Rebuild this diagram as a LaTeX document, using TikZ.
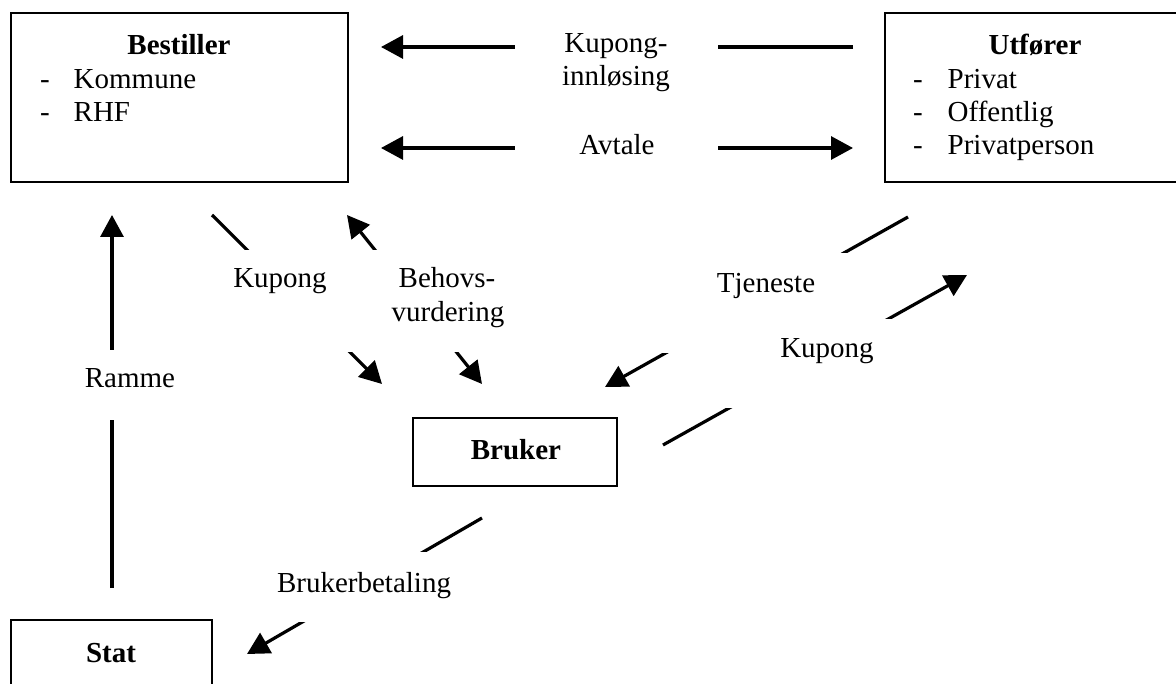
\documentclass[tikz,border=0pt]{standalone}
\usepackage{fontspec}
\setmainfont{Liberation Serif}
\usetikzlibrary{arrows.meta}
\tikzset{
  boxnode/.style={draw, line width=2pt, rectangle, inner sep=0pt},
  conn/.style={line width=3.2pt, -{Triangle[length=22pt,width=23pt]}},
  conn2/.style={line width=3.2pt, {Triangle[length=22pt,width=23pt]}-{Triangle[length=22pt,width=23pt]}},
  txt/.style={inner sep=0pt, font=\fontsize{29}{33}\selectfont},
  btxt/.style={inner sep=0pt, font=\fontsize{29}{33}\selectfont\bfseries},
  mask/.style={fill=white}
}
\begin{document}
\begin{tikzpicture}[x=1pt,y=-1pt]
\clip (0,0) rectangle (1176,684);
\fill[white] (0,0) rectangle (1176,684);
% boxes
\node[boxnode, minimum width=337pt, minimum height=169pt] (bestiller) at (179.5,97.5) {};
\node[boxnode, minimum width=315pt, minimum height=169pt] (utforer) at (1042.5,97.5) {};
\node[boxnode, minimum width=204pt, minimum height=68pt] (bruker) at (515,452) {};
\node[boxnode, minimum width=201pt, minimum height=100pt] (stat) at (111.5,670) {};
% connector end points
\coordinate (kiS) at (853,47);  \coordinate (kiT) at (381,47);
\coordinate (avL) at (381,148); \coordinate (avR) at (853,148);
\coordinate (kLS) at (212,215); \coordinate (kLT) at (382,384);
\coordinate (bhU) at (347,215); \coordinate (bhD) at (482,384);
\coordinate (tjS) at (908,217); \coordinate (tjT) at (605,387);
\coordinate (kRS) at (663,445); \coordinate (kRT) at (967,275);
\coordinate (bbS) at (482,518); \coordinate (bbT) at (247,654);
\coordinate (raS) at (112,588); \coordinate (raT) at (112,215);
% connectors
\draw[conn] (kiS) -- (kiT);
\draw[conn2] (avL) -- (avR);
\draw[conn] (kLS) -- (kLT);
\draw[conn2] (bhU) -- (bhD);
\draw[conn] (tjS) -- (tjT);
\draw[conn] (kRS) -- (kRT);
\draw[conn] (bbS) -- (bbT);
\draw[conn] (raS) -- (raT);
% label backgrounds
\fill[mask] (515,35) rectangle (718,60);
\fill[mask] (515,135) rectangle (718,160);
\fill[mask] (225,250) rectangle (365,352);
\fill[mask] (368,250) rectangle (540,352);
\fill[mask] (660,253) rectangle (850,353);
\fill[mask] (700,319) rectangle (900,408);
\fill[mask] (270,552) rectangle (460,622);
\fill[mask] (70,350) rectangle (190,420);
% box texts
\node[btxt, anchor=base] (tBest) at (179,55) {Bestiller};
\node[txt, anchor=base west] (dB1) at (40,89) {-};
\node[txt, anchor=base west] (tKom) at (73.5,89) {Kommune};
\node[txt, anchor=base west] (dB2) at (40,122) {-};
\node[txt, anchor=base west] (tRHF) at (73.5,122) {RHF};
\node[btxt, anchor=base] (tUtf) at (1035,55) {Utfører};
\node[txt, anchor=base west] (dU1) at (913,89) {-};
\node[txt, anchor=base west] (tPri) at (947.5,89) {Privat};
\node[txt, anchor=base west] (dU2) at (913,122) {-};
\node[txt, anchor=base west] (tOff) at (947.5,122) {Offentlig};
\node[txt, anchor=base west] (dU3) at (913,155) {-};
\node[txt, anchor=base west] (tPP) at (947.5,155) {Privatperson};
\node[btxt, anchor=base] (tBru) at (516,460) {Bruker};
\node[btxt, anchor=base] (tStat) at (111,662) {Stat};
% connector labels
\node[txt, anchor=base] (lKI1) at (616,53) {Kupong-};
\node[txt, anchor=base] (lKI2) at (616,86) {innløsing};
\node[txt, anchor=base] (lAv) at (617,155) {Avtale};
\node[txt, anchor=base] (lKL) at (280,288) {Kupong};
\node[txt, anchor=base] (lBh1) at (447,288) {Behovs-};
\node[txt, anchor=base] (lBh2) at (448,322) {vurdering};
\node[txt, anchor=base] (lTj) at (766,293) {Tjeneste};
\node[txt, anchor=base] (lKR) at (827,358) {Kupong};
\node[txt, anchor=base] (lRa) at (130,388) {Ramme};
\node[txt, anchor=base] (lBB) at (364,592) {Brukerbetaling};
\end{tikzpicture}
\end{document}
